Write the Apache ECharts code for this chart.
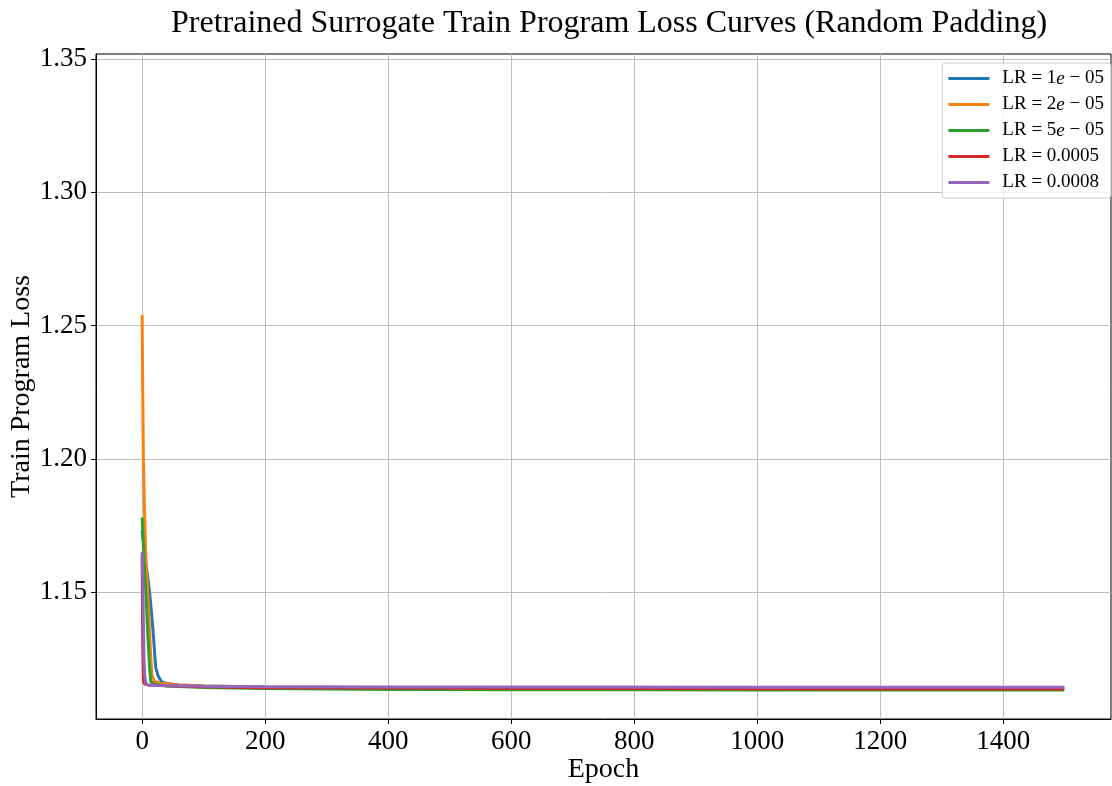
<!DOCTYPE html>
<html>
<head>
<meta charset="utf-8">
<script src="https://cdn.jsdelivr.net/npm/echarts@6/dist/echarts.min.js"></script>
<style>
  html, body { margin: 0; padding: 0; background: #fff; }
  #chart { width: 1112px; height: 786px; }
</style>
</head>
<body>
<div id="chart"></div>
<script>
// tick labels
const xTicks = [0, 200, 400, 600, 800, 1000, 1200, 1400];
const yTicks = [1.15, 1.20, 1.25, 1.30, 1.35];

// LR = 1e-05 (blue)
const lr1e5Epochs = [0, 5, 10, 12, 15, 18, 22, 26, 32, 40, 60, 100, 200, 400, 600, 800, 1000, 1200, 1499];
const lr1e5Loss = [1.173, 1.163, 1.154, 1.150, 1.143, 1.1346, 1.1219, 1.1185, 1.1163, 1.1157, 1.1152, 1.1148, 1.1144, 1.1142, 1.1142, 1.1141, 1.1141, 1.1141, 1.1141];

// LR = 2e-05 (orange)
const lr2e5Epochs = [0, 1, 2, 4, 6, 9, 12, 14, 16, 20, 30, 60, 100, 200, 400, 600, 800, 1000, 1200, 1499];
const lr2e5Loss = [1.254, 1.225, 1.200, 1.180, 1.163, 1.150, 1.136, 1.126, 1.119, 1.1165, 1.1158, 1.1152, 1.1148, 1.1144, 1.1142, 1.1141, 1.1141, 1.1140, 1.1140, 1.1140];

// LR = 5e-05 (green)
const lr5e5Epochs = [0, 2, 4, 6, 9, 12, 14, 20, 40, 100, 200, 400, 600, 800, 1000, 1200, 1499];
const lr5e5Loss = [1.178, 1.168, 1.158, 1.150, 1.135, 1.122, 1.1165, 1.1155, 1.1148, 1.1142, 1.1138, 1.1135, 1.1134, 1.1134, 1.1133, 1.1133, 1.1133];

// LR = 0.0005 (red)
const lr5e4Epochs = [0, 1, 2, 4, 10, 50, 100, 200, 500, 800, 1100, 1499];
const lr5e4Loss = [1.163, 1.130, 1.117, 1.1155, 1.1152, 1.1148, 1.1145, 1.1141, 1.1139, 1.1138, 1.1137, 1.1137];

// LR = 0.0008 (purple)
const lr8e4Epochs = [0, 1, 2, 3, 4, 6, 10, 30, 100, 200, 400, 700, 1000, 1300, 1499];
const lr8e4Loss = [1.165, 1.155, 1.140, 1.126, 1.119, 1.1158, 1.1152, 1.1150, 1.1147, 1.1145, 1.1144, 1.1144, 1.1143, 1.1143, 1.1143];

const seriesNames = ['LR = 1e-05', 'LR = 2e-05', 'LR = 5e-05', 'LR = 0.0005', 'LR = 0.0008'];
const seriesColors = ['#1f77b4', '#ff7f0e', '#2ca02c', '#d62728', '#9467bd'];
const seriesEpochs = [lr1e5Epochs, lr2e5Epochs, lr5e5Epochs, lr5e4Epochs, lr8e4Epochs];
const seriesLoss = [lr1e5Loss, lr2e5Loss, lr5e5Loss, lr5e4Loss, lr8e4Loss];

const serif = '"Liberation Serif", "DejaVu Serif", serif';

const legendLabels = {
  'LR = 1e-05': 'LR = 1{i|e} − 05',
  'LR = 2e-05': 'LR = 2{i|e} − 05',
  'LR = 5e-05': 'LR = 5{i|e} − 05',
  'LR = 0.0005': 'LR = 0.0005',
  'LR = 0.0008': 'LR = 0.0008'
};

const chart = echarts.init(document.getElementById('chart'), null, { renderer: 'canvas' });

const option = {
  animation: false,
  backgroundColor: '#fff',
  title: {
    text: 'Pretrained Surrogate Train Program Loss Curves (Random Padding)',
    left: 166,
    top: 3,
    textStyle: { fontFamily: serif, fontWeight: 'normal', fontSize: 32, color: '#000' }
  },
  legend: {
    orient: 'vertical',
    right: 1,
    top: 63,
    itemWidth: 41,
    itemHeight: 3,
    itemGap: 7,
    icon: 'rect',
    padding: [6, 7, 6, 6],
    borderColor: '#cccccc',
    borderWidth: 1,
    borderRadius: 3,
    backgroundColor: 'rgba(255,255,255,0.8)',
    data: seriesNames,
    formatter: name => legendLabels[name],
    textStyle: {
      fontFamily: serif,
      fontSize: 19,
      color: '#000',
      padding: [0, 0, 0, 8],
      rich: { i: { fontFamily: serif, fontStyle: 'italic', fontSize: 19 } }
    }
  },
  grid: {
    left: 96,
    right: 1,
    top: 54,
    bottom: 67,
    containLabel: false,
    outerBoundsMode: 'none',
    show: true,
    borderColor: '#000',
    borderWidth: 1
  },
  xAxis: {
    type: 'value',
    min: -75,
    max: 1575,
    name: 'Epoch',
    nameLocation: 'middle',
    nameGap: 37,
    nameMoveOverlap: false,
    nameTextStyle: { fontFamily: serif, fontSize: 28, color: '#000' },
    axisLine: { show: true, onZero: false, lineStyle: { color: '#000', width: 1 } },
    axisTick: { show: true, length: 5, customValues: xTicks, lineStyle: { color: '#000' } },
    axisLabel: {
      customValues: xTicks,
      margin: 9,
      fontFamily: serif,
      fontSize: 27,
      color: '#000',
      formatter: v => String(v)
    },
    splitLine: { show: true, lineStyle: { color: '#bdbdbd', width: 1 } }
  },
  yAxis: {
    type: 'value',
    min: 1.1024,
    max: 1.3519,
    name: 'Train Program Loss',
    nameLocation: 'middle',
    nameGap: 60,
    nameMoveOverlap: false,
    nameTextStyle: { fontFamily: serif, fontSize: 28, color: '#000' },
    axisLine: { show: true, onZero: false, lineStyle: { color: '#000', width: 1 } },
    axisTick: { show: true, length: 5, customValues: yTicks, lineStyle: { color: '#000' } },
    axisLabel: {
      customValues: yTicks,
      margin: 9,
      fontFamily: serif,
      fontSize: 27,
      color: '#000',
      formatter: v => v.toFixed(2)
    },
    splitLine: { show: true, lineStyle: { color: '#bdbdbd', width: 1 } }
  },
  series: seriesNames.map((name, k) => ({
    name: name,
    type: 'line',
    showSymbol: false,
    symbol: 'none',
    color: seriesColors[k],
    lineStyle: { width: 3, color: seriesColors[k] },
    data: seriesEpochs[k].map((e, j) => [e, seriesLoss[k][j]])
  }))
};

chart.setOption(option);
</script>
</body>
</html>
